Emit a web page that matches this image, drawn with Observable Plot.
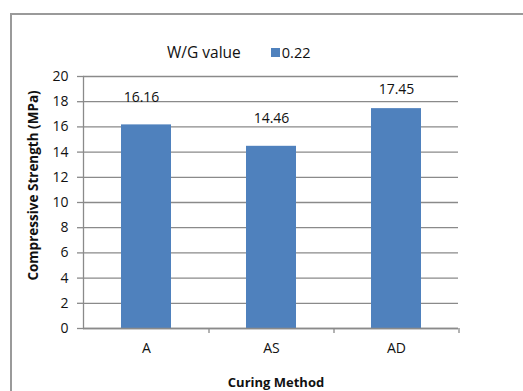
<!DOCTYPE html>
<html>
<head>
<meta charset="utf-8">
<script src="https://cdn.jsdelivr.net/npm/d3@7"></script>
<script src="https://cdn.jsdelivr.net/npm/@observablehq/plot@0.6"></script>
<style>
  html, body { margin: 0; padding: 0; background: #fff; }
  #wrap { position: relative; width: 523px; height: 391px; overflow: hidden; font-family: "Open Sans", sans-serif; }
  #border { position: absolute; left: 10px; top: 13px; width: 700px; height: 600px; border-top: 2px solid #9a9a9a; border-left: 2px solid #9a9a9a; }
  #legend { position: absolute; left: 167px; top: 41px; font-size: 15.5px; color: #111; white-space: nowrap; display: flex; align-items: center; }
  #legend .sw { display: inline-block; width: 9px; height: 9px; background: #4F81BD; margin-left: 30px; margin-right: 2px; }
  #legend .v { font-size: 14.5px; }
  #chart { position: absolute; left: 0; top: 0; }
</style>
</head>
<body>
<div id="wrap">
  <div id="border"></div>
  <div id="chart"></div>
  <div id="legend"><span>W/G value</span><span class="sw"></span><span class="v">0.22</span></div>
</div>
<script>
const categories = ["A", "AS", "AD"];
const strengths = [16.16, 14.46, 17.45];
const yTicks = [0, 2, 4, 6, 8, 10, 12, 14, 16, 18, 20];
const seriesName = "0.22";

const data = categories.map((c, i) => ({ method: c, value: strengths[i] }));
const labelOffsets = { A: [-5, -27], AS: [0, -28], AD: [0, -19] };

const grid = "#8a8a8a";
const plot = Plot.plot({
  width: 523,
  height: 391,
  marginLeft: 83,
  marginRight: 65,
  marginTop: 76,
  marginBottom: 63,
  style: { fontFamily: "'Open Sans', sans-serif", fontSize: "14px", color: "#111", background: "transparent" },
  x: { domain: categories, paddingInner: 0.6, paddingOuter: 0.3, label: null },
  y: { domain: [0, 20], label: null },
  marks: [
    Plot.gridY(yTicks, { stroke: grid, strokeOpacity: 1, strokeWidth: 1.3 }),
    Plot.barY(data, { x: "method", y: "value", fill: "#4F81BD" }),
    Plot.axisY(yTicks, { tickSize: 6, tickPadding: 9, stroke: grid, strokeWidth: 1.3, fontSize: 14, fill: "#111", label: null }),
    Plot.axisX({ tickSize: 0, tickPadding: 15, fontSize: 14, fill: "#111", label: null }),
    Plot.frame({ anchor: "left", stroke: grid, strokeWidth: 1.3 }),
    Plot.ruleY([0], { stroke: grid, strokeWidth: 1.3 }),
    Plot.ruleX(categories, { x: d => d, y1: 0, y2: -0.4, dx: 62.5, stroke: grid, strokeWidth: 1.3 }),
    ...categories.map(c => Plot.text(data.filter(d => d.method === c), {
      x: "method", y: "value", text: d => d.value.toFixed(2),
      dx: labelOffsets[c][0], dy: labelOffsets[c][1], fontSize: 14, fill: "#111"
    })),
    Plot.text(["Compressive Strength (MPa)"], { frameAnchor: "left", textAnchor: "middle", lineAnchor: "middle", dx: -50, dy: -17, rotate: -90, fontWeight: "bold", fontSize: 13.5, fill: "#111" }),
    Plot.text(["Curing Method"], { frameAnchor: "bottom", textAnchor: "middle", lineAnchor: "middle", dx: 5, dy: 54, fontWeight: "bold", fontSize: 13, fill: "#111" })
  ]
});
document.getElementById("chart").appendChild(plot);
</script>
</body>
</html>
